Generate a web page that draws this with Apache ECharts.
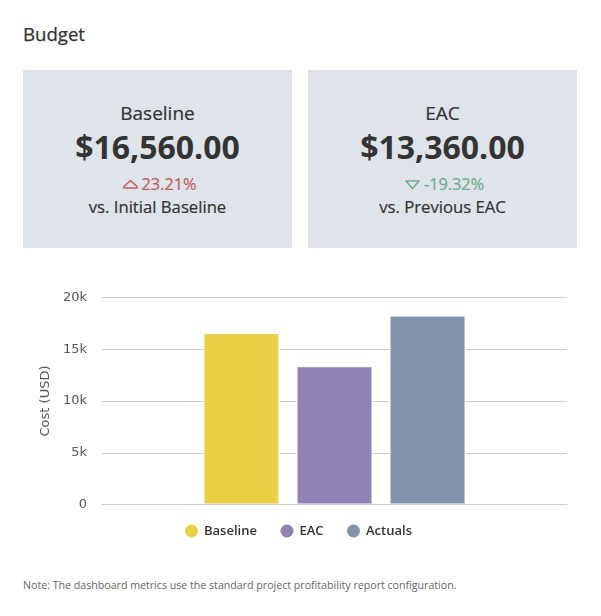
<!DOCTYPE html>
<html lang="en">
<head>
<meta charset="UTF-8">
<title>Budget</title>
<script src="https://cdn.jsdelivr.net/npm/echarts@6/dist/echarts.min.js"></script>
<style>
    *{ margin:0; padding:0; box-sizing:border-box; }
    body{ width:601px; height:616px; background:#fff; position:relative; overflow:hidden; font-family:"Open Sans",sans-serif; color:#333; }
    #title{ position:absolute; left:23px; top:22px; font-size:18.6px; -webkit-text-stroke:0.25px #333; line-height:24px; }
    .card{ position:absolute; top:70px; width:269px; height:178px; background:#dfe3ea; text-align:center; }
    .card .name{ position:absolute; left:0; right:0; top:30px; font-size:19px; -webkit-text-stroke:0.2px #333; line-height:26px; }
    .card .value{ position:absolute; left:0; right:0; top:55px; font-size:32px; font-weight:700; line-height:44px; }
    .card .delta{ position:absolute; left:4px; right:0; top:102px; font-size:16.3px; -webkit-text-stroke:0.2px; line-height:24px; }
    .card .delta svg{ width:15px; height:11px; margin-right:4px; }
    .card .vs{ position:absolute; left:0; right:0; top:125px; font-size:16.7px; -webkit-text-stroke:0.2px #333; line-height:24px; }
    #main{ position:absolute; left:0; top:270px; width:601px; height:285px; }
    #note{ position:absolute; left:23px; top:577px; font-size:10.63px; line-height:16px; color:#666; }
</style>
</head>
<body>
<div id="title">Budget</div>
<div id="cards"></div>
<div id="main"></div>
<div id="note">Note: The dashboard metrics use the standard project profitability report configuration.</div>
<script>
    // cards
    var cardNames = ['Baseline', 'EAC'];
    var cardValues = ['$16,560.00', '$13,360.00'];
    var cardDeltas = ['23.21%', '-19.32%'];
    var cardNotes = ['vs. Initial Baseline', 'vs. Previous EAC'];
    var cardColors = ['#c0605f', '#6fae8b'];
    var cardLeft = [23, 308];
    var upArrow = '<polygon points="1,9 14,9 14,7.5 7.5,1.5 1,7.5" fill="none" stroke-width="1.5"/>';
    var downArrow = '<polygon points="1,2 14,2 7.5,9.5" fill="none" stroke-width="1.5"/>';

    // chart data
    var categories = ['Budget'];
    var seriesNames = ['Baseline', 'EAC', 'Actuals'];
    var seriesValues = [16560, 13360, 18250];
    var seriesColors = ['#ead044', '#9182b6', '#8192ad'];

    var html = '';
    for (var i = 0; i < cardNames.length; i++) {
        html += '<div class="card" style="left:' + cardLeft[i] + 'px">'
            + '<div class="name">' + cardNames[i] + '</div>'
            + '<div class="value">' + cardValues[i] + '</div>'
            + '<div class="delta" style="color:' + cardColors[i] + '">'
            + '<svg viewBox="0 0 15 11" stroke="' + cardColors[i] + '">' + (i == 0 ? upArrow : downArrow) + '</svg>'
            + cardDeltas[i] + '</div>'
            + '<div class="vs">' + cardNotes[i] + '</div></div>';
    }
    document.getElementById('cards').innerHTML = html;

    var myChart = echarts.init(document.getElementById('main'));
    var series = [];
    for (var j = 0; j < seriesNames.length; j++) {
        series.push({
            name: seriesNames[j],
            type: 'bar',
            data: [seriesValues[j]],
            barWidth: 76,
            barGap: '22.4%',
            itemStyle: { color: seriesColors[j], borderColor: '#fff', borderWidth: 1 }
        });
    }
    var option = {
        animation: false,
        textStyle: { fontFamily: 'Open Sans' },
        grid: { left: 102, right: 34, top: 27.5, height: 207 },
        legend: {
            data: seriesNames,
            top: 249.5,
            left: 180,
            icon: 'circle',
            itemWidth: 13,
            itemHeight: 13,
            itemGap: 23.5,
            itemStyle: { borderWidth: 0 },
            textStyle: { fontFamily: 'Open Sans', fontSize: 13, fontWeight: 600, color: '#333', padding: [0, 0, 0, 1] }
        },
        xAxis: {
            type: 'category',
            data: categories,
            z: 3,
            axisLabel: { show: false },
            axisTick: { show: false },
            axisLine: { lineStyle: { color: '#ccc', width: 1 } }
        },
        yAxis: {
            type: 'value',
            min: 0,
            max: 20000,
            interval: 5000,
            name: 'Cost (USD)',
            nameLocation: 'middle',
            nameGap: 48,
            nameTextStyle: { fontFamily: 'DejaVu Sans', fontSize: 13, color: '#555' },
            axisLabel: {
                fontFamily: 'DejaVu Sans',
                fontSize: 13,
                color: '#555',
                margin: 15,
                formatter: function (v) { return v == 0 ? '0' : (v / 1000) + 'k'; }
            },
            splitLine: { lineStyle: { color: '#ccc', width: 1 } }
        },
        series: series
    };
    myChart.setOption(option);
</script>
</body>
</html>
